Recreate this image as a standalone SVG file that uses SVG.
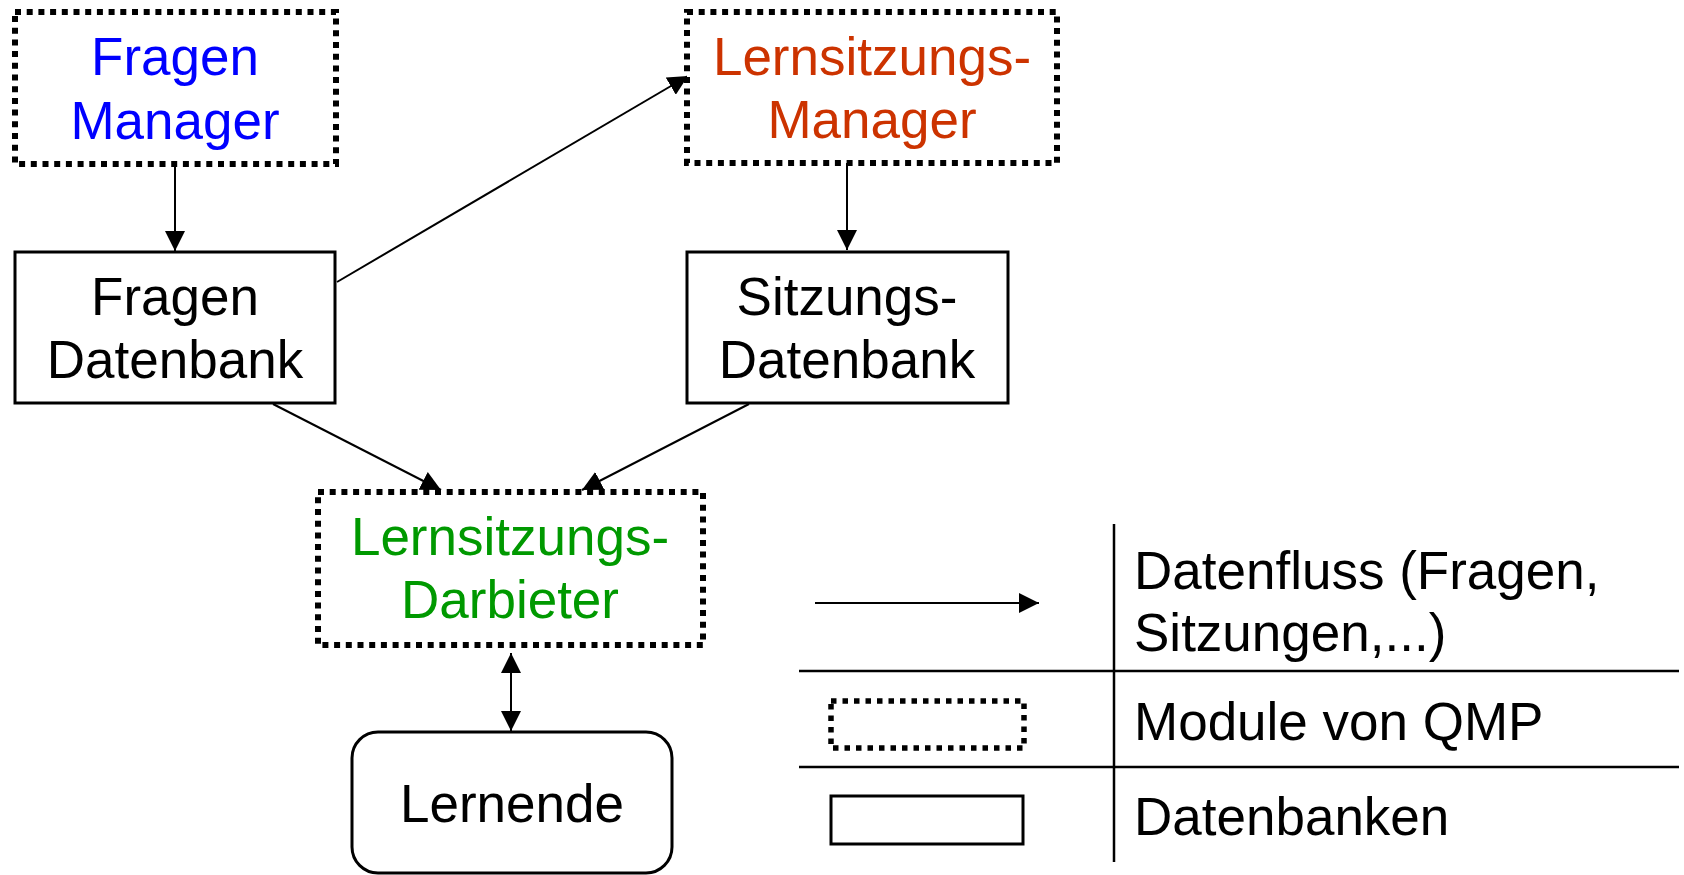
<svg xmlns="http://www.w3.org/2000/svg" width="1684" height="875" viewBox="0 0 1684 875">
  <style>
    text { font-family: "Liberation Sans", Arial, sans-serif; font-size: 53px; fill: #000; }
    .c { text-anchor: middle; }
    .module { fill: #fff; stroke: #000; stroke-width: 6; stroke-dasharray: 6 5.7; }
    .db { fill: #fff; stroke: #000; stroke-width: 3; }
    .flow { fill: none; stroke: #000; stroke-width: 2; }
    .rule { stroke: #000; stroke-width: 2.5; }
    .blue { fill: #0000ff; }
    .red { fill: #cc3300; }
    .green { fill: #009900; }
  </style>
  <defs>
    <marker id="head" markerUnits="userSpaceOnUse" markerWidth="20" markerHeight="20" refX="20" refY="10" orient="auto">
      <path d="M0,0 L20,10 L0,20 z" fill="#000"/>
    </marker>
    <marker id="tail" markerUnits="userSpaceOnUse" markerWidth="20" markerHeight="20" refX="0" refY="10" orient="auto">
      <path d="M20,0 L0,10 L20,20 z" fill="#000"/>
    </marker>
  </defs>

  <rect width="1684" height="875" fill="#fff"/>

  <!-- data flow connectors -->
  <g id="connectors">
    <line class="flow" x1="175" y1="164" x2="175" y2="251" marker-end="url(#head)"/>
    <line class="flow" x1="847" y1="163" x2="847" y2="250" marker-end="url(#head)"/>
    <line class="flow" x1="337" y1="282" x2="688" y2="76" marker-end="url(#head)"/>
    <line class="flow" x1="273" y1="404" x2="441" y2="490" marker-end="url(#head)"/>
    <line class="flow" x1="749" y1="404" x2="582" y2="490" marker-end="url(#head)"/>
    <line class="flow" x1="511" y1="653" x2="511" y2="731" marker-start="url(#tail)" marker-end="url(#head)"/>
  </g>

  <g id="fragen-manager">
    <rect class="module" x="15" y="12" width="321" height="152"/>
    <text class="c blue" x="175" y="75">Fragen</text>
    <text class="c blue" x="175" y="139">Manager</text>
  </g>

  <g id="lernsitzungs-manager">
    <rect class="module" x="687" y="12" width="370" height="151"/>
    <text class="c red" x="872" y="75">Lernsitzungs-</text>
    <text class="c red" x="872" y="138">Manager</text>
  </g>

  <g id="fragen-datenbank">
    <rect class="db" x="15" y="252" width="320" height="151"/>
    <text class="c" x="175" y="315">Fragen</text>
    <text class="c" x="175" y="378">Datenbank</text>
  </g>

  <g id="sitzungs-datenbank">
    <rect class="db" x="687" y="252" width="321" height="151"/>
    <text class="c" x="847" y="315">Sitzungs-</text>
    <text class="c" x="847" y="378">Datenbank</text>
  </g>

  <g id="lernsitzungs-darbieter">
    <rect class="module" x="318" y="492" width="385" height="153"/>
    <text class="c green" x="510" y="555">Lernsitzungs-</text>
    <text class="c green" x="510" y="618">Darbieter</text>
  </g>

  <g id="lernende">
    <rect class="db" x="352" y="732" width="320" height="141" rx="26" ry="26"/>
    <text class="c" x="512" y="822">Lernende</text>
  </g>

  <!-- legend -->
  <g id="legend">
    <line class="rule" x1="1114" y1="524" x2="1114" y2="862"/>
    <line class="rule" x1="799" y1="671" x2="1679" y2="671"/>
    <line class="rule" x1="799" y1="767" x2="1679" y2="767"/>
    <line class="flow" x1="815" y1="603" x2="1039" y2="603" marker-end="url(#head)"/>
    <rect class="module" x="831" y="701" width="193" height="47" style="stroke-width:5.5;stroke-dasharray:5.5 6"/>
    <rect class="db" x="831" y="796" width="192" height="48"/>
    <text x="1134" y="589">Datenfluss (Fragen,</text>
    <text x="1134" y="651">Sitzungen,...)</text>
    <text x="1134" y="740">Module von QMP</text>
    <text x="1134" y="835">Datenbanken</text>
  </g>
</svg>
